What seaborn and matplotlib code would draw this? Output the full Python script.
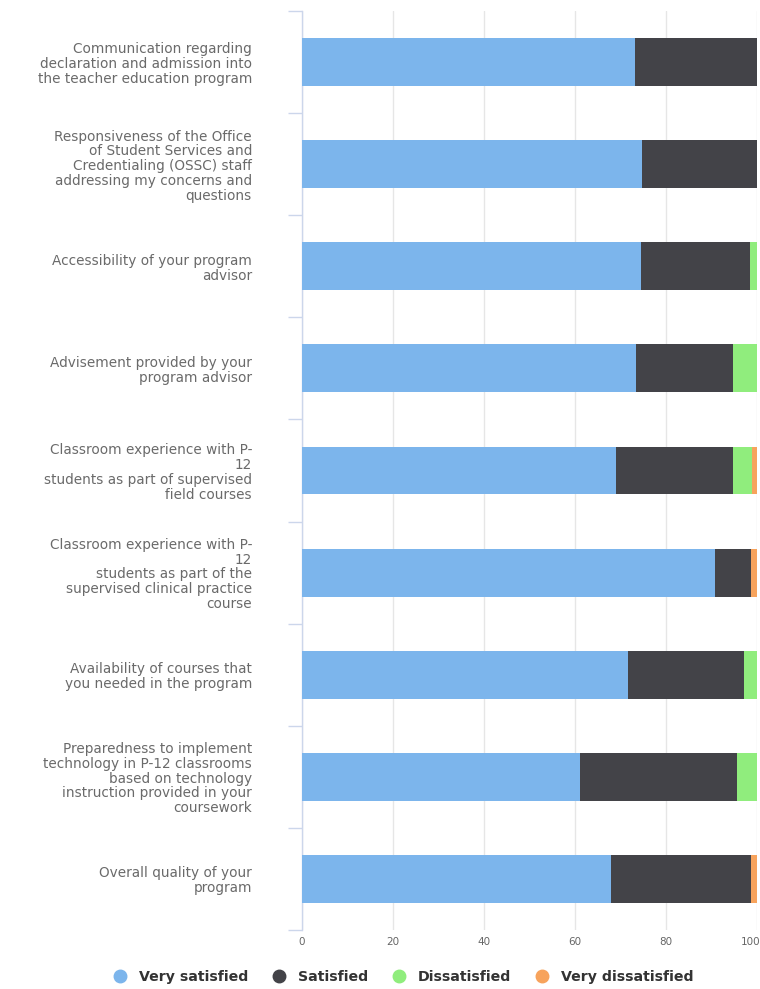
import matplotlib
matplotlib.use("Agg")
import matplotlib.pyplot as plt
from matplotlib.lines import Line2D
from matplotlib.transforms import ScaledTranslation
import numpy as np
import pandas as pd
import seaborn as sns

categories = [
    "Communication regarding\ndeclaration and admission into\nthe teacher education program",
    "Responsiveness of the Office\nof Student Services and\nCredentialing (OSSC) staff\naddressing my concerns and\nquestions",
    "Accessibility of your program\nadvisor",
    "Advisement provided by your\nprogram advisor",
    "Classroom experience with P-\n12\nstudents as part of supervised\nfield courses",
    "Classroom experience with P-\n12\nstudents as part of the\nsupervised clinical practice\ncourse",
    "Availability of courses that\nyou needed in the program",
    "Preparedness to implement\ntechnology in P-12 classrooms\nbased on technology\ninstruction provided in your\ncoursework",
    "Overall quality of your\nprogram",
]
very_satisfied = [73.2, 74.7, 74.6, 73.3, 69.0, 90.8, 71.6, 61.1, 68.0]
satisfied = [26.8, 25.3, 23.8, 21.4, 25.8, 7.9, 25.5, 34.5, 30.7]
dissatisfied = [0.0, 0.0, 1.6, 5.3, 4.1, 0.0, 2.9, 4.4, 0.0]
very_dissatisfied = [0.0, 0.0, 0.0, 0.0, 1.1, 1.3, 0.0, 0.0, 1.3]
series_names = ["Very satisfied", "Satisfied", "Dissatisfied", "Very dissatisfied"]
colors = ["#7cb5ec", "#434348", "#90ed7d", "#f7a35c"]
x_ticks = [0, 20, 40, 60, 80, 100]

sns.set_theme(style="white")
plt.rcParams["font.family"] = ["DejaVu Sans"]

df = pd.DataFrame({
    "category": categories,
    series_names[0]: very_satisfied,
    series_names[1]: satisfied,
    series_names[2]: dissatisfied,
    series_names[3]: very_dissatisfied,
})
cum = df[series_names].cumsum(axis=1).assign(category=categories)

fig = plt.figure(figsize=(7.6, 9.89), dpi=100)
ax = fig.add_axes([302 / 760, 1 - 930 / 989, 455 / 760, 919 / 989])

# Stacked bars: draw cumulative totals from the outermost segment inward
for name, color in reversed(list(zip(series_names, colors))):
    sns.barplot(data=cum, x=name, y="category", orient="h", color=color,
                width=0.47, ax=ax, saturation=1, linewidth=0, zorder=3)

ax.set_xlim(0, 100)
ax.set_ylim(len(categories) - 0.5, -0.5)
ax.set_xticks(x_ticks)
ax.set_xticklabels([str(t) for t in x_ticks])
ax.set_xlabel("")
ax.set_ylabel("")

ax.xaxis.grid(True, color="#e6e6e6", linewidth=1, zorder=0)
ax.yaxis.grid(False)
ax.set_axisbelow(True)

for side in ["top", "right", "bottom"]:
    ax.spines[side].set_visible(False)
ax.spines["left"].set_color("#ccd6eb")
ax.spines["left"].set_linewidth(1)

ax.tick_params(axis="x", length=0, labelsize=7.5, labelcolor="#666666", pad=5)
ax.tick_params(axis="y", which="major", left=False, length=0, labelsize=9.8,
               labelcolor="#6a6a6a", pad=36)
ax.set_yticks(np.arange(-0.5, len(categories), 1.0), minor=True)
ax.tick_params(axis="y", which="minor", left=True, length=10,
               color="#ccd6eb", width=1)
for lbl in ax.get_yticklabels():
    lbl.set_multialignment("right")
    lbl.set_linespacing(1.07)

# keep the last x label inside the figure
last = ax.get_xticklabels()[-1]
last.set_transform(last.get_transform() + ScaledTranslation(-6 / 100, 0, fig.dpi_scale_trans))

handles = [Line2D([0], [0], marker="o", linestyle="", markersize=9,
                  markerfacecolor=c, markeredgecolor=c) for c in colors]
leg = fig.legend(handles, series_names, loc="center", ncol=4,
                 bbox_to_anchor=(0.526, 1 - 977 / 989), frameon=False,
                 handletextpad=0.3, columnspacing=1.2,
                 prop={"weight": "bold", "size": 10.2})
for t in leg.get_texts():
    t.set_color("#333333")

fig.savefig("out.png", dpi=100)
